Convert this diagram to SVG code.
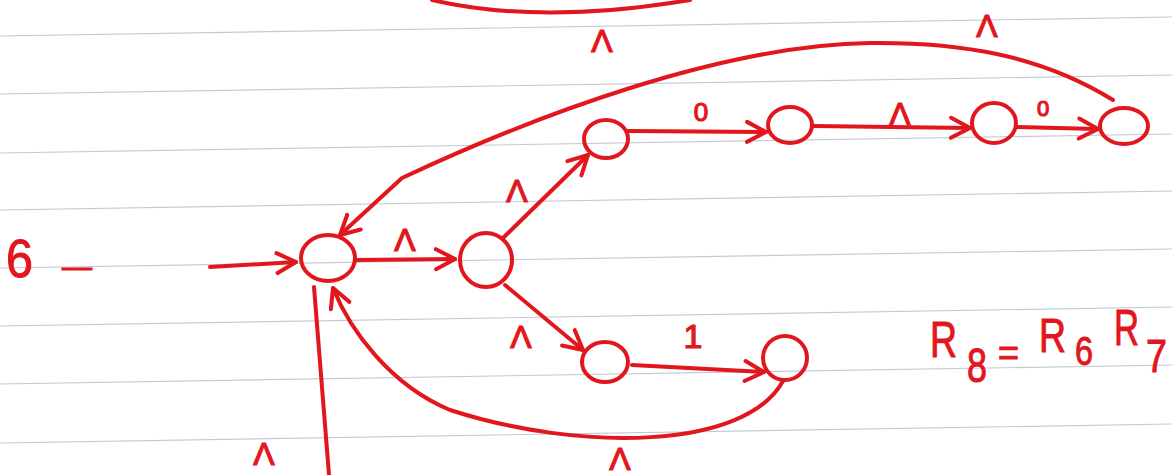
<svg xmlns="http://www.w3.org/2000/svg" width="1172" height="475" viewBox="0 0 1172 475">
  <style>
    .rule { stroke: #c3c9d6; stroke-width: 1.2; fill: none; }
    .node { fill: none; stroke: #e2161d; stroke-width: 4; }
    .edge { fill: none; stroke: #e2161d; stroke-width: 4; stroke-linecap: round; stroke-linejoin: round; }
    .arr { marker-end: url(#open); }
    .lbl { font-family: "Liberation Sans", Arial, sans-serif; fill: #e2161d; stroke: #e2161d; stroke-width: 1.2; text-anchor: middle; }
    .hand { font-family: "Liberation Sans", Arial, sans-serif; fill: #e2161d; stroke: #e2161d; stroke-width: 1; }
  </style>
  <defs>
    <marker id="open" viewBox="-22 -13 24 26" refX="0" refY="0" markerWidth="24" markerHeight="26" markerUnits="userSpaceOnUse" orient="auto" overflow="visible">
      <path d="M-19,-10 L0,0 L-19,10" fill="none" stroke="#e2161d" stroke-width="4" stroke-linecap="round" stroke-linejoin="round"/>
    </marker>
  </defs>
  <rect width="1172" height="475" fill="#ffffff"/>
  <g id="ruled-paper">
    <line class="rule" x1="0" y1="36" x2="1172" y2="17"/>
    <line class="rule" x1="0" y1="94" x2="1172" y2="75"/>
    <line class="rule" x1="0" y1="153" x2="1172" y2="134"/>
    <line class="rule" x1="0" y1="210" x2="1172" y2="191"/>
    <line class="rule" x1="0" y1="268" x2="1172" y2="249"/>
    <line class="rule" x1="0" y1="326" x2="1172" y2="307"/>
    <line class="rule" x1="0" y1="384" x2="1172" y2="365"/>
    <line class="rule" x1="0" y1="443" x2="1172" y2="424"/>
  </g>
  <g id="connectors">
    <path class="edge" d="M 432 0 Q 540 25 690 0"/>
    <path class="edge arr" d="M 210 267 L 296 262"/>
    <path class="edge arr" d="M 356 260 L 455 259"/>
    <path class="edge arr" d="M 503 238 L 588 155"/>
    <path class="edge arr" d="M 628 131 L 766 132"/>
    <path class="edge arr" d="M 813 126 L 970 128"/>
    <path class="edge arr" d="M 1017 127 L 1098 129"/>
    <path class="edge arr" d="M 1113 100 C 1040 55 960 42 870 43 C 720 45 530 118 402 178 L 340 235"/>
    <path class="edge arr" d="M 505 285 L 583 350"/>
    <path class="edge arr" d="M 632 365 L 764 372"/>
    <path class="edge arr" d="M 783 381 C 745 450 580 452 450 410 C 390 385 350 330 333 288"/>
    <path class="edge" d="M 314 287 L 329 475"/>
  </g>
  <g id="edge-labels">
    <text class="lbl" x="602" y="52" font-size="32">Λ</text>
    <text class="lbl" x="987" y="37" font-size="32">Λ</text>
    <text class="lbl" x="405" y="251" font-size="32">Λ</text>
    <text class="lbl" x="517" y="202" font-size="32">Λ</text>
    <text class="lbl" x="701" y="121" font-size="26">0</text>
    <text class="lbl" x="900" y="125" font-size="32">Λ</text>
    <text class="lbl" x="1043" y="116" font-size="22">0</text>
    <text class="lbl" x="521" y="348" font-size="32">Λ</text>
    <text class="lbl" x="693" y="348" font-size="34">1</text>
    <text class="lbl" x="620" y="470" font-size="32">Λ</text>
    <text class="lbl" x="264" y="465" font-size="32">Λ</text>
  </g>
  <g id="start-label">
    <text class="hand" x="6" y="277" font-size="54" textLength="27" lengthAdjust="spacingAndGlyphs">6</text>
    <text class="hand" x="62" y="277" font-size="30" textLength="30" lengthAdjust="spacingAndGlyphs">—</text>
  </g>
  <g id="node-A"><ellipse class="node" cx="328" cy="258" rx="27" ry="23"/></g>
  <g id="node-B"><ellipse class="node" cx="486" cy="260" rx="26" ry="27"/></g>
  <g id="node-C"><ellipse class="node" cx="606" cy="139" rx="22" ry="19"/></g>
  <g id="node-D"><ellipse class="node" cx="790" cy="125" rx="22" ry="18"/></g>
  <g id="node-E"><ellipse class="node" cx="994" cy="123" rx="22" ry="20"/></g>
  <g id="node-F"><ellipse class="node" cx="1124" cy="126" rx="24" ry="18"/></g>
  <g id="node-G"><ellipse class="node" cx="605" cy="362" rx="23" ry="20"/></g>
  <g id="node-H"><ellipse class="node" cx="785" cy="358" rx="22" ry="22"/></g>
  <g id="equation">
    <text class="hand" x="930" y="357" font-size="50" textLength="27" lengthAdjust="spacingAndGlyphs">R</text>
    <text class="hand" x="967" y="382" font-size="48" textLength="20" lengthAdjust="spacingAndGlyphs">8</text>
    <text class="hand" x="998" y="365" font-size="36" textLength="21" lengthAdjust="spacingAndGlyphs">=</text>
    <text class="hand" x="1039" y="352" font-size="48" textLength="27" lengthAdjust="spacingAndGlyphs">R</text>
    <text class="hand" x="1075" y="365" font-size="40" textLength="18" lengthAdjust="spacingAndGlyphs">6</text>
    <text class="hand" x="1114" y="345" font-size="50" textLength="25" lengthAdjust="spacingAndGlyphs">R</text>
    <text class="hand" x="1146" y="372" font-size="46" textLength="21" lengthAdjust="spacingAndGlyphs">7</text>
  </g>
</svg>
